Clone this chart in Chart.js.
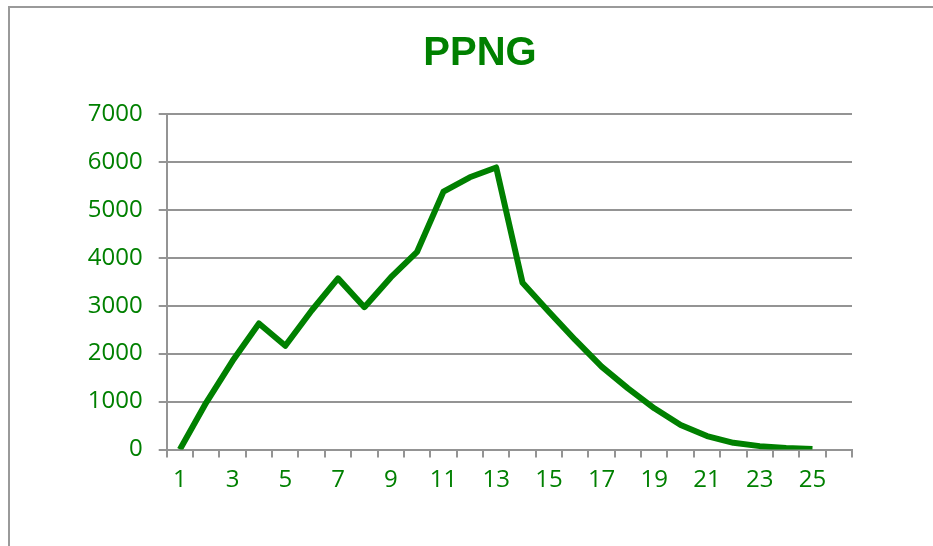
<!DOCTYPE html>
<html>
<head>
<meta charset="utf-8">
<script src="https://cdn.jsdelivr.net/npm/chart.js@4/dist/chart.umd.min.js"></script>
<style>
  html, body { margin: 0; padding: 0; background: #fff; overflow: hidden; }
  #marco {
    position: absolute; left: 8px; top: 6px;
    width: 1000px; height: 700px;
    border: 2px solid #9a9a9a;
  }
  #wrap { position: absolute; left: 0; top: 0; width: 933px; height: 546px; }
</style>
</head>
<body>
<div id="marco"></div>
<div id="wrap"><canvas id="grafica" width="933" height="546"></canvas></div>
<script>
// datos
const categorias = ["1", "2", "3", "4", "5", "6", "7", "8", "9", "10", "11", "12", "13",
  "14", "15", "16", "17", "18", "19", "20", "21", "22", "23", "24", "25", "26"];
const valoresPPNG = [0, 980, 1850, 2630, 2165, 2900, 3570, 2970, 3590, 4125, 5380, 5680, 5885,
  3480, 2875, 2285, 1730, 1275, 860, 510, 280, 140, 70, 30, 10, null];
const ticksY = [0, 1000, 2000, 3000, 4000, 5000, 6000, 7000];

const verde = "#008000";
const gris = "#949494";
const fuenteTicks = { family: "'Open Sans', sans-serif", size: 24 };

const ctx = document.getElementById("grafica").getContext("2d");

new Chart(ctx, {
  type: "line",
  data: {
    labels: categorias,
    datasets: [{
      label: "PPNG",
      data: valoresPPNG,
      borderColor: verde,
      borderWidth: 6,
      borderJoinStyle: "round",
      pointRadius: 0,
      tension: 0,
      fill: false
    }]
  },
  options: {
    responsive: false,
    animation: false,
    layout: { padding: { left: 27, right: 0, top: 0, bottom: 0 } },
    plugins: {
      legend: { display: false },
      tooltip: { enabled: false },
      title: {
        display: true,
        text: "PPNG",
        color: verde,
        font: { family: "'Liberation Sans', Arial, sans-serif", size: 40, weight: "bold" },
        padding: { top: 30, bottom: 36 }
      }
    },
    scales: {
      x: {
        type: "category",
        offset: true,
        grid: {
          offset: true,
          drawOnChartArea: false,
          drawTicks: true,
          tickLength: 8,
          color: gris,
          lineWidth: 2
        },
        border: { display: true, color: gris, width: 2 },
        ticks: {
          autoSkip: false,
          maxRotation: 0,
          padding: 8,
          color: verde,
          font: fuenteTicks,
          callback: function (val, i) {
            const t = this.getLabelForValue(val);
            return Number(t) % 2 === 1 ? t : "";
          }
        },
        afterFit: function (scale) { scale.height = 96.5; }
      },
      y: {
        min: 0,
        max: 7000,
        grid: {
          drawTicks: true,
          tickLength: 8,
          color: gris,
          lineWidth: 2
        },
        border: { display: true, color: gris, width: 2 },
        ticks: {
          padding: 16,
          color: verde,
          font: fuenteTicks,
          callback: v => String(v)
        },
        afterBuildTicks: function (scale) {
          scale.ticks = ticksY.map(v => ({ value: v }));
        },
        afterFit: function (scale) { scale.width = 139.7; }
      },
      // eje vacio a la derecha, solo para dejar el hueco
      derecha: {
        type: "linear",
        position: "right",
        grid: { display: false },
        border: { display: false },
        ticks: { display: false },
        afterFit: function (scale) { scale.width = 81; }
      }
    }
  }
});
</script>
</body>
</html>
